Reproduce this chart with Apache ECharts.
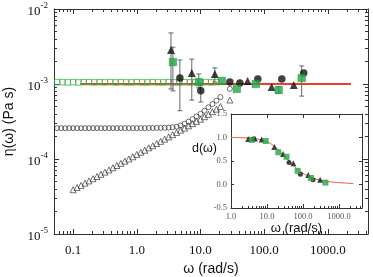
<!DOCTYPE html>
<html><head><meta charset="utf-8">
<script src="https://cdn.jsdelivr.net/npm/echarts@6/dist/echarts.min.js"></script>
<style>html,body{margin:0;padding:0;background:#fff}#c{width:373px;height:277px}</style>
</head><body><div id="c"></div>
<script>
// ---------- main panel data ----------
const xMajorTicks = [0.1, 1, 10, 100, 1000];
const xMajorLabels = ['0.1', '1.0', '10.0', '100.0', '1000.0'];
const yMajorTicks = [1e-5, 1e-4, 1e-3, 1e-2];
const yMajorExponents = ['-5', '-4', '-3', '-2'];

// open green squares
const sqOmega = [0.0562,0.0681,0.0825,0.1,0.1212,0.1468,0.1778,0.2154,0.261,0.3162,0.3831,0.4642,0.5623,0.6813,0.8254,1.0,1.212,1.468,1.778,2.154,2.61,3.162,3.831,4.642,5.623,6.813,8.254,10.0,12.12,14.68,17.78];
const sqEta = [1.06e-3,1.06e-3,1.05e-3,1.06e-3,1.05e-3,1.06e-3,1.06e-3,1.05e-3,1.06e-3,1.05e-3,1.06e-3,1.05e-3,1.06e-3,1.05e-3,1.05e-3,1.06e-3,1.05e-3,1.05e-3,1.06e-3,1.05e-3,1.05e-3,1.06e-3,1.05e-3,1.05e-3,1.06e-3,1.05e-3,1.06e-3,1.05e-3,1.06e-3,1.05e-3,1.06e-3];

// open circles
const circOmega = [0.0562,0.0649,0.075,0.0866,0.1,0.1155,0.1334,0.154,0.1778,0.2054,0.2371,0.2738,0.3162,0.3652,0.4217,0.487,0.5623,0.6494,0.7499,0.866,1.0,1.155,1.334,1.54,1.778,2.054,2.371,2.738,3.162,3.652,4.217,4.87,5.623,6.494,7.499,8.66,10.0,11.55,13.34,15.4,17.78,20.54,28.9];
const circEta = [2.58e-4,2.58e-4,2.57e-4,2.58e-4,2.58e-4,2.58e-4,2.57e-4,2.58e-4,2.58e-4,2.58e-4,2.58e-4,2.57e-4,2.58e-4,2.58e-4,2.58e-4,2.58e-4,2.58e-4,2.58e-4,2.58e-4,2.58e-4,2.58e-4,2.58e-4,2.58e-4,2.59e-4,2.59e-4,2.6e-4,2.6e-4,2.61e-4,2.62e-4,2.65e-4,2.7e-4,2.8e-4,2.95e-4,3.15e-4,3.4e-4,3.7e-4,4.0e-4,4.4e-4,4.9e-4,5.4e-4,6.0e-4,6.7e-4,8.6e-4];

// open triangles
const triOmega = [0.1,0.1155,0.1334,0.154,0.1778,0.2054,0.2371,0.2738,0.3162,0.3652,0.4217,0.487,0.5623,0.6494,0.7499,0.866,1.0,1.155,1.334,1.54,1.778,2.054,2.371,2.738,3.162,3.652,4.217,4.87,5.623,6.494,7.499,8.66,10.0,11.55,13.34,15.4,17.78,20.54,28.9];
const triEta = [3.89e-5,4.16e-5,4.45e-5,4.77e-5,5.1e-5,5.46e-5,5.84e-5,6.25e-5,6.68e-5,7.15e-5,7.65e-5,8.19e-5,8.76e-5,9.37e-5,1.0e-4,1.07e-4,1.15e-4,1.23e-4,1.31e-4,1.41e-4,1.5e-4,1.61e-4,1.72e-4,1.84e-4,1.97e-4,2.11e-4,2.26e-4,2.42e-4,2.58e-4,2.77e-4,2.96e-4,3.17e-4,3.39e-4,3.66e-4,3.94e-4,4.27e-4,4.62e-4,5.01e-4,6.12e-4];

// filled markers
const bTriOmega = [3.44, 7.3, 16.8, 55, 131, 291];
const bTriEta   = [2.84e-3, 1.40e-3, 1.36e-3, 1.10e-3, 9.1e-4, 9.7e-4];
const bCircOmega = [4.75, 10.1, 28.9, 41.5, 79.4, 189, 418];
const bCircEta   = [1.20e-3, 8.1e-4, 1.06e-3, 1.03e-3, 1.17e-3, 1.17e-3, 1.40e-3];
const gSqOmega = [3.69, 9.4, 21.6, 37.2, 73.8, 169, 388];
const gSqEta   = [1.96e-3, 1.06e-3, 1.10e-3, 8.6e-4, 1.0e-3, 8.3e-4, 1.2e-3];

// error bars: omega, low, high
const errOmega = [3.44, 3.69, 4.75, 7.3, 9.4, 10.1, 16.8, 169, 388];
const errLow   = [8.6e-4, 8.1e-4, 4.4e-4, 6.1e-4, 8.9e-4, 5.75e-4, 1.06e-3, 7.6e-4, 6.9e-4];
const errHigh  = [4.8e-3, 3.1e-3, 2.09e-3, 2.15e-3, 1.36e-3, 1.03e-3, 1.64e-3, 9.2e-4, 1.74e-3];

// red reference line
const refOmega = [0.13, 2300];
const refEta = [1e-3, 1e-3];

// ---------- inset data ----------
const inXTicks = [1, 10, 100, 1000];
const inXLabels = ['1.0', '10.0', '100.0', '1000.0'];
const inYTicks = [-0.5, 0.0, 0.5, 1.0, 1.5];
const inYLabels = ['-0.5', '0.0', '0.5', '1.0', '1.5'];
const inTriOmega = [3.0, 4.6, 7.1, 16, 28, 54, 140, 300];
const inTriD     = [0.97, 0.98, 0.96, 0.80, 0.65, 0.45, 0.20, 0.10];
const inSqOmega = [3.8, 9.2, 20.6, 35, 71, 166, 420];
const inSqD     = [0.95, 0.925, 0.685, 0.59, 0.29, 0.14, 0.04];
const inCircOmega = [4.2, 41, 85, 190];
const inCircD     = [0.97, 0.47, 0.22, 0.10];
const fitOmega = [1, 2, 4, 7, 10, 15, 20, 30, 50, 70, 100, 200, 400, 700, 1000, 2000, 2500];
const fitD     = [1.0, 0.995, 0.98, 0.95, 0.91, 0.83, 0.75, 0.6, 0.43, 0.33, 0.24, 0.13, 0.075, 0.05, 0.04, 0.025, 0.02];

// ---------- build ----------
const L = Math.log10;
const pts = (xs, ys) => xs.map((x, i) => [L(x), L(ys[i])]);
const ptsLin = (xs, ys) => xs.map((x, i) => [L(x), ys[i]]);
function minorTicks(d0, d1, lo, hi) {
  const out = [];
  for (let d = d0; d <= d1; d++) for (let k = 2; k <= 9; k++) {
    const v = L(k) + d; if (v > lo && v < hi) out.push(v);
  }
  return out;
}
const X0 = -1.3, X1 = 3.63, Y0 = -5, Y1 = -2;
const IX0 = 0, IX1 = 3.64;
const serif = 'Liberation Serif', sans = 'Liberation Sans';
const axisColor = '#333';

function ax(o) {
  const base = {
    type: 'value', splitLine: { show: false },
    axisTick: { show: false }, axisLabel: { show: false }
  };
  const r = Object.assign(base, o);
  r.axisLine = Object.assign({ show: false, onZero: false, lineStyle: { color: axisColor, width: 1 } }, o.axisLine || {});
  return r;
}
const xMajLog = xMajorTicks.map(L), yMajLog = yMajorTicks.map(L), inXMajLog = inXTicks.map(L);
const xMinor = minorTicks(-2, 3, X0, X1), yMinor = minorTicks(-5, -3, Y0, Y1), inXMinor = minorTicks(0, 3, IX0, IX1);

function lblX(v) { const i = xMajLog.findIndex(t => Math.abs(t - v) < 1e-6); return i >= 0 ? xMajorLabels[i] : ''; }
function lblY(v) { const i = yMajLog.findIndex(t => Math.abs(t - v) < 1e-6); return i >= 0 ? '{a|10}{b|' + yMajorExponents[i] + '}' : ''; }
function lblIX(v) { const i = inXMajLog.findIndex(t => Math.abs(t - v) < 1e-6); return i >= 0 ? inXLabels[i] : ''; }
function lblIY(v) { const i = inYTicks.findIndex(t => Math.abs(t - v) < 1e-6); return i >= 0 ? inYLabels[i] : ''; }

const lineOn = { show: true, onZero: false, lineStyle: { color: axisColor } };
const xAxes = [
  ax({ gridIndex: 0, min: X0, max: X1, position: 'bottom', axisLine: lineOn,
       axisTick: { show: true, inside: true, length: 5, customValues: xMajLog, lineStyle: { color: axisColor } },
       axisLabel: { show: true, customValues: xMajLog, formatter: lblX, fontFamily: serif, fontSize: 13, color: '#111', margin: 10 },
       name: 'ω (rad/s)', nameLocation: 'middle', nameGap: 23,
       nameTextStyle: { fontFamily: sans, fontSize: 14, color: '#111' } }),
  ax({ gridIndex: 0, min: X0, max: X1, position: 'bottom',
       axisTick: { show: true, inside: true, length: 3, customValues: xMinor, lineStyle: { color: axisColor } } }),
  ax({ gridIndex: 0, min: X0, max: X1, position: 'top', axisLine: lineOn,
       axisTick: { show: true, inside: true, length: 5, customValues: xMajLog, lineStyle: { color: axisColor } } }),
  ax({ gridIndex: 0, min: X0, max: X1, position: 'top',
       axisTick: { show: true, inside: true, length: 3, customValues: xMinor, lineStyle: { color: axisColor } } }),
  // inset
  ax({ gridIndex: 1, min: IX0, max: IX1, position: 'bottom', axisLine: lineOn,
       axisTick: { show: true, inside: true, length: 4, customValues: inXMajLog, lineStyle: { color: axisColor } },
       axisLabel: { show: true, customValues: inXMajLog, formatter: lblIX, fontFamily: serif, fontSize: 8.5, color: '#555', margin: 4 },
       name: 'ω (rad/s)', nameLocation: 'middle', nameGap: 10,
       nameTextStyle: { fontFamily: sans, fontSize: 13, color: '#111' } }),
  ax({ gridIndex: 1, min: IX0, max: IX1, position: 'bottom',
       axisTick: { show: true, inside: true, length: 2, customValues: inXMinor, lineStyle: { color: axisColor } } }),
  ax({ gridIndex: 1, min: IX0, max: IX1, position: 'top', axisLine: lineOn,
       axisTick: { show: true, inside: true, length: 4, customValues: inXMajLog, lineStyle: { color: axisColor } } })
];
const yAxes = [
  ax({ gridIndex: 0, min: Y0, max: Y1, position: 'left', axisLine: lineOn,
       axisTick: { show: true, inside: true, length: 5, customValues: yMajLog, lineStyle: { color: axisColor } },
       axisLabel: { show: true, customValues: yMajLog, formatter: lblY, margin: 6,
         rich: { a: { fontFamily: serif, fontSize: 13, color: '#111', padding: [6, 0, 0, 0] },
                 b: { fontFamily: serif, fontSize: 9, color: '#111', padding: [0, 0, 6, 0] } } },
       name: 'η(ω) (Pa s)', nameLocation: 'middle', nameGap: 34,
       nameTextStyle: { fontFamily: sans, fontSize: 14, color: '#111' } }),
  ax({ gridIndex: 0, min: Y0, max: Y1, position: 'left',
       axisTick: { show: true, inside: true, length: 3, customValues: yMinor, lineStyle: { color: axisColor } } }),
  ax({ gridIndex: 0, min: Y0, max: Y1, position: 'right', axisLine: lineOn,
       axisTick: { show: true, inside: true, length: 5, customValues: yMajLog, lineStyle: { color: axisColor } } }),
  ax({ gridIndex: 0, min: Y0, max: Y1, position: 'right',
       axisTick: { show: true, inside: true, length: 3, customValues: yMinor, lineStyle: { color: axisColor } } }),
  // inset
  ax({ gridIndex: 1, min: -0.5, max: 1.5, position: 'left', axisLine: lineOn,
       axisTick: { show: true, inside: true, length: 3, customValues: inYTicks, lineStyle: { color: axisColor } },
       axisLabel: { show: true, customValues: inYTicks, formatter: lblIY, fontFamily: serif, fontSize: 8.5, color: '#555', margin: 4 } }),
  ax({ gridIndex: 1, min: -0.5, max: 1.5, position: 'right', axisLine: lineOn,
       axisTick: { show: true, inside: true, length: 3, customValues: inYTicks, lineStyle: { color: axisColor } } })
];

const openStyle = (c, w) => ({ color: 'transparent', borderColor: c, borderWidth: w });
const errData = errOmega.map((x, i) => [L(x), L(errLow[i]), L(errHigh[i])]);

const series = [
  { type: 'scatter', name: 'open squares', xAxisIndex: 0, yAxisIndex: 0, symbol: 'rect', symbolSize: 5.5,
    itemStyle: openStyle('#3cb54a', 1), data: pts(sqOmega, sqEta), z: 2 },
  { type: 'line', name: 'reference', xAxisIndex: 0, yAxisIndex: 0, showSymbol: false, symbol: 'none',
    lineStyle: { color: '#e8402c', width: 2 }, data: pts(refOmega, refEta), z: 1 },
  { type: 'scatter', name: 'open circles', xAxisIndex: 0, yAxisIndex: 0, symbol: 'circle', symbolSize: 5,
    itemStyle: openStyle('#222', 0.8), data: pts(circOmega, circEta), z: 2 },
  { type: 'scatter', name: 'open triangles', xAxisIndex: 0, yAxisIndex: 0, symbol: 'triangle', symbolSize: 6,
    itemStyle: openStyle('#222', 0.8), data: pts(triOmega, triEta), z: 2 },
  { type: 'custom', name: 'error bars', xAxisIndex: 0, yAxisIndex: 0, data: errData, encode: { x: 0, y: [1, 2] }, z: 3,
    renderItem: function (params, api) {
      const x = api.value(0);
      const p1 = api.coord([x, api.value(2)]), p2 = api.coord([x, api.value(1)]);
      const cw = 2.5, st = { stroke: '#666', lineWidth: 1 };
      return { type: 'group', children: [
        { type: 'line', shape: { x1: p1[0], y1: p1[1], x2: p2[0], y2: p2[1] }, style: st },
        { type: 'line', shape: { x1: p1[0] - cw, y1: p1[1], x2: p1[0] + cw, y2: p1[1] }, style: st },
        { type: 'line', shape: { x1: p2[0] - cw, y1: p2[1], x2: p2[0] + cw, y2: p2[1] }, style: st }
      ] };
    } },
  { type: 'scatter', name: 'filled triangles', xAxisIndex: 0, yAxisIndex: 0, symbol: 'triangle', symbolSize: 8,
    itemStyle: { color: '#111' }, data: pts(bTriOmega, bTriEta), z: 4 },
  { type: 'scatter', name: 'filled circles', xAxisIndex: 0, yAxisIndex: 0, symbol: 'circle', symbolSize: 7.5,
    itemStyle: { color: '#111' }, data: pts(bCircOmega, bCircEta), z: 4 },
  { type: 'scatter', name: 'filled squares', xAxisIndex: 0, yAxisIndex: 0, symbol: 'rect', symbolSize: 7.5,
    itemStyle: { color: '#22a847', borderColor: '#1b8f3a', borderWidth: 0.5 }, data: pts(gSqOmega, gSqEta), z: 5 },
  // inset
  { type: 'line', name: 'fit', xAxisIndex: 4, yAxisIndex: 4, showSymbol: false, symbol: 'none', smooth: true,
    lineStyle: { color: '#ee5a3c', width: 1 }, data: ptsLin(fitOmega, fitD), z: 1 },
  { type: 'scatter', name: 'inset triangles', xAxisIndex: 4, yAxisIndex: 4, symbol: 'triangle', symbolSize: 6,
    itemStyle: { color: '#111' }, data: ptsLin(inTriOmega, inTriD), z: 3 },
  { type: 'scatter', name: 'inset circles', xAxisIndex: 4, yAxisIndex: 4, symbol: 'circle', symbolSize: 5,
    itemStyle: { color: '#111' }, data: ptsLin(inCircOmega, inCircD), z: 3 },
  { type: 'scatter', name: 'inset squares', xAxisIndex: 4, yAxisIndex: 4, symbol: 'rect', symbolSize: 6,
    itemStyle: { color: '#22a847' }, data: ptsLin(inSqOmega, inSqD), z: 4 }
];

const chart = echarts.init(document.getElementById('c'), null, { renderer: 'canvas' });
chart.setOption({
  animation: false,
  backgroundColor: '#fff',
  grid: [
    { left: 54, top: 9, right: 5, bottom: 43, outerBoundsMode: 'none', containLabel: false },
    { left: 231, top: 114, right: 11, bottom: 69, outerBoundsMode: 'none', containLabel: false }
  ],
  xAxis: xAxes,
  yAxis: yAxes,
  graphic: [
    { type: 'text', left: 192, top: 142, z: 100,
      style: { text: 'd(ω)', font: '12.5px "Liberation Sans"', fill: '#111' } }
  ],
  series: series
});
</script>
</body></html>
